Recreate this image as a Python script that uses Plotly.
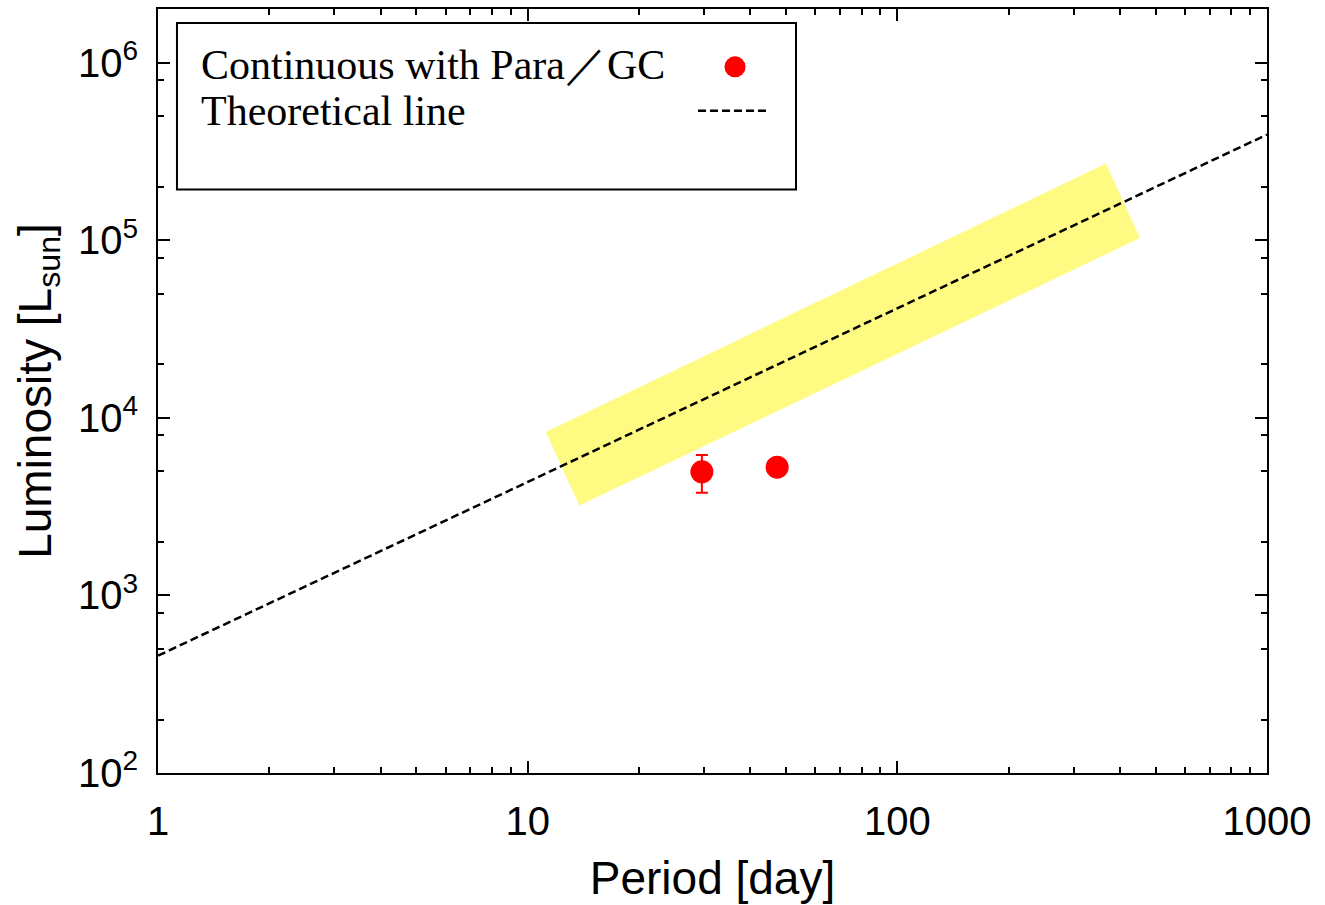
import plotly.graph_objects as go

# ---- data ----
obs_period = [29.6, 47.3]
obs_lum = [4970, 5280]
obs_err_plus = [1220, 0]
obs_err_minus = [1180, 0]

theory_period = [1, 1000]
theory_lum = [458, 3.94e5]

band_period = [11.2, 13.8, 453, 367, 11.2]
band_lum = [8340, 3210, 1.03e5, 2.71e5, 8340]

x_tickvals = [1, 10, 100, 1000]
x_ticktext = ["1", "10", "100", "1000"]
y_tickvals = [1e2, 1e3, 1e4, 1e5, 1e6]
y_ticktext = ["10<sup>2</sup>", "10<sup>3</sup>", "10<sup>4</sup>", "10<sup>5</sup>", "10<sup>6</sup>"]
x_minor = [m * d for d in (1, 10, 100) for m in range(2, 10)]
y_minor = [m * d for d in (1e2, 1e3, 1e4, 1e5, 1e6) for m in (2, 5, 8)]

legend_labels = ["Continuous with Para\uff0fGC", "Theoretical line"]

fig = go.Figure()

fig.add_trace(go.Scatter(
    x=band_period, y=band_lum, mode="lines", fill="toself",
    fillcolor="#fffa82", line=dict(width=0, color="#fffa82"),
    showlegend=False, hoverinfo="skip"))

fig.add_trace(go.Scatter(
    x=theory_period, y=theory_lum, mode="lines",
    line=dict(color="black", width=2.5, dash="8px,4px"),
    showlegend=False))

fig.add_trace(go.Scatter(
    x=obs_period, y=obs_lum, mode="markers",
    marker=dict(color="red", size=23),
    error_y=dict(type="data", array=obs_err_plus, arrayminus=obs_err_minus,
                 color="red", thickness=2, width=6, symmetric=False),
    showlegend=False))

axis_common = dict(
    type="log", showline=True, linecolor="black", linewidth=2, mirror="ticks",
    ticks="inside", ticklen=12, tickwidth=1.5, tickcolor="black",
    showgrid=False, zeroline=False,
    tickfont=dict(family="Liberation Sans, Arial, sans-serif", size=40, color="black"),
)

fig.update_xaxes(
    **axis_common, range=[0, 3], tickmode="array",
    tickvals=x_tickvals, ticktext=x_ticktext, ticklabelstandoff=12,
    minor=dict(tickmode="array", tickvals=x_minor, ticks="inside", ticklen=6,
               tickwidth=1.5, tickcolor="black", showgrid=False),
    title=dict(text="Period [day]", font=dict(family="Liberation Sans, Arial, sans-serif", size=46, color="black"), standoff=20),
)
fig.update_yaxes(
    **axis_common, range=[2, 6.303], tickmode="array",
    tickvals=y_tickvals, ticktext=y_ticktext, ticklabelstandoff=10,
    minor=dict(tickmode="array", tickvals=y_minor, ticks="inside", ticklen=6,
               tickwidth=1.5, tickcolor="black", showgrid=False),
    title=dict(text="Luminosity [L<sub>sun</sub>]", font=dict(family="Liberation Sans, Arial, sans-serif", size=46, color="black"), standoff=12),
)

# manual legend (symbols on the right of text)
fig.add_shape(type="rect", xref="paper", yref="paper", x0=0.0171, x1=0.5753, y0=0.7638, y1=0.9817,
              line=dict(color="black", width=2), fillcolor="white", layer="above")
fig.add_shape(type="circle", xref="paper", yref="paper", x0=0.5108, x1=0.5298, y0=0.9106, y1=0.938,
              line=dict(color="red", width=0), fillcolor="red", layer="above")
fig.add_shape(type="line", xref="paper", yref="paper", x0=0.4869, x1=0.55, y0=0.8669, y1=0.8669,
              line=dict(color="black", width=2.5, dash="8px,4px"), layer="above")
serif = dict(family="Liberation Serif, Times New Roman, serif", size=42, color="black")
fig.add_annotation(text=legend_labels[0], xref="paper", yref="paper", x=0.037, y=0.927,
                   xanchor="left", yanchor="middle", showarrow=False, font=serif)
fig.add_annotation(text=legend_labels[1], xref="paper", yref="paper", x=0.037, y=0.866,
                   xanchor="left", yanchor="middle", showarrow=False, font=serif)

fig.update_layout(
    width=1325, height=905,
    margin=dict(l=158, r=58, t=7, b=132),
    plot_bgcolor="white", paper_bgcolor="white",
    showlegend=False,
)

fig.write_html("out.html")
